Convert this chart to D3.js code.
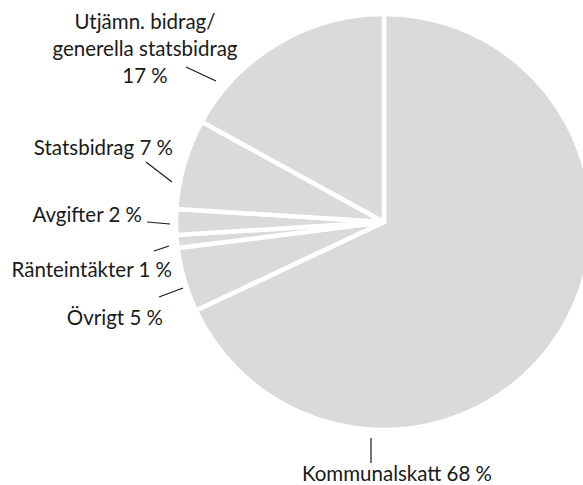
<!DOCTYPE html>
<html><head><meta charset="utf-8">
<script src="https://cdn.jsdelivr.net/npm/d3@7"></script>
<style>html,body{margin:0;padding:0;background:#fff;overflow:hidden}</style>
</head><body>
<svg id="c" width="583" height="485"></svg>
<script>
// Data
const categories = ["Kommunalskatt", "Övrigt", "Ränteintäkter", "Avgifter", "Statsbidrag", "Utjämn. bidrag/ generella statsbidrag"];
const values = [68, 5, 1, 2, 7, 17];
const labelLines = [
  ["Kommunalskatt 68 %"],
  ["Övrigt 5 %"],
  ["Ränteintäkter 1 %"],
  ["Avgifter 2 %"],
  ["Statsbidrag 7 %"],
  ["Utjämn. bidrag/", "generella statsbidrag", "17 %"]
];

// Layout (positions only)
const cx = 384, cy = 222, R = 208;
const labelPos = [
  {x: 397, y: 481, anchor: "middle", lead: [[371, 438], [371, 463]]},
  {x: 163, y: 325, anchor: "end", lead: [[183, 288], [159, 297]]},
  {x: 172, y: 277, anchor: "end", lead: [[169, 246], [154, 251]]},
  {x: 142, y: 222, anchor: "end", lead: [[170, 224], [147, 222]]},
  {x: 173, y: 155, anchor: "end", lead: [[172, 182], [146, 162]]},
  {x: 145, y: 29, anchor: "middle", lead: [[216, 81], [186, 67]]}
];

const svg = d3.select("#c");
const pie = d3.pie().sort(null).value(d => d);
const arc = d3.arc().innerRadius(0).outerRadius(R);
const arcs = pie(values);

const g = svg.append("g").attr("transform", `translate(${cx},${cy})`);
g.selectAll("path").data(arcs).join("path")
  .attr("d", arc)
  .attr("fill", "#d9dadb")
  .attr("stroke", "#fff")
  .attr("stroke-width", 4.5)
  .attr("stroke-linejoin", "round");

const lab = svg.append("g")
  .attr("font-family", "Lato, 'Open Sans', sans-serif")
  .attr("font-size", 20.5)
  .attr("fill", "#1a1a1a");

labelPos.forEach((p, i) => {
  svg.append("line")
    .attr("x1", p.lead[0][0]).attr("y1", p.lead[0][1])
    .attr("x2", p.lead[1][0]).attr("y2", p.lead[1][1])
    .attr("stroke", "#1a1a1a").attr("stroke-width", 1.2);
  const t = lab.append("text").attr("text-anchor", p.anchor);
  labelLines[i].forEach((line, j) => {
    t.append("tspan").attr("x", p.x).attr("y", p.y + j * 27).text(line);
  });
});
</script>
</body></html>
